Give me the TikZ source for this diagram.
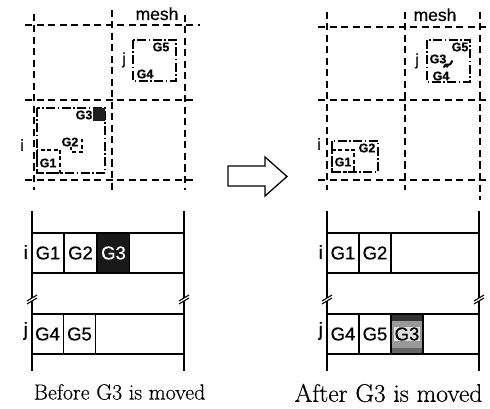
\documentclass[tikz,border=0pt]{standalone}
\usepackage{fontspec}
\newfontfamily\labelsans[FakeBold=0.6]{Liberation Sans}
\newfontfamily\capserif[FakeBold=0.4]{Latin Modern Roman}
\begin{document}
\begin{tikzpicture}[x=1pt,y=-1pt,
  gridline/.style={line width=1.4pt, dash pattern=on 7pt off 4.5pt},
  cluster/.style={line width=1.1pt, dash pattern=on 9pt off 2.5pt on 1.5pt off 2.5pt},
  subbox/.style={line width=1.1pt, dash pattern=on 4pt off 2.5pt},
  tbl/.style={line width=1.3pt},
  small/.style={font=\labelsans\bfseries\fontsize{12.5}{13}\selectfont, inner sep=0.5pt},
  mid/.style={font=\labelsans\fontsize{16}{17}\selectfont, inner sep=0pt},
  rowlab/.style={font=\labelsans\fontsize{19}{20}\selectfont, inner sep=0pt, anchor=east},
  cell/.style={draw, tbl, minimum width=32pt, minimum height=40pt, inner sep=0pt,
    font=\labelsans\fontsize{18.5}{20}\selectfont},
  caption/.style={inner sep=0pt},
  brk/.style={fill=white, draw=none},
]
\useasboundingbox (0,0) rectangle (490,409);

% ---------- mesh before the move ----------
\foreach \x/\a/\b in {34/14/190, 112/10/192, 185/15/190}
  \draw[gridline] (\x,\a) -- (\x,\b);
\foreach \y/\a/\b in {25/25/200, 100/25/197, 180/25/197}
  \draw[gridline] (\a,\y) -- (\b,\y);
\node[mid, font=\labelsans\fontsize{17.5}{18}\selectfont, anchor=base] (mesh-l) at (157,20) {mesh};

% cluster j
\draw[cluster] (133,40) rectangle (176,81);
\node[mid] (lab-j-l) at (124,60) {j};
\node[small] (g5-l) at (161,47) {G5};
\node[small] (g4-l) at (145,74) {G4};

% cluster i
\draw[cluster] (37,108) rectangle (105,173);
\node[mid] (lab-i-l) at (22,145) {i};
\fill[black!88] (93,108) rectangle (105,121);
\node[small] (g3-l) at (84,115) {G3};
\draw[subbox] (71,140) rectangle (82,152);
\node[small, fill=white] (g2-l) at (70,142) {G2};
\draw[subbox] (37,150) rectangle (60,173);
\node[small] (g1-l) at (48,163) {G1};

% ---------- block arrow ----------
\draw[line width=1.3pt, line join=miter]
  (228,166) -- (265,166) -- (265,157) -- (287,176.5) -- (265,196) -- (265,186) -- (228,186) -- cycle;

% ---------- mesh after the move ----------
\foreach \x/\a/\b in {327/12/190, 405/12/190, 480/12/200}
  \draw[gridline] (\x,\a) -- (\x,\b);
\foreach \y in {27,100,180}
  \draw[gridline] (318,\y) -- (490,\y);
\node[mid, font=\labelsans\fontsize{17.5}{18}\selectfont, anchor=base] (mesh-r) at (435,21) {mesh};

% cluster j now holding G3
\draw[cluster] (427,40) rectangle (470,82);
\node[mid] (lab-j-r) at (417,61) {j};
\node[small] (g5-r) at (460,47) {G5};
\node[small] (g3-r) at (438,59) {G3};
\node[small] (g4-r) at (441,76) {G4};
\draw[line width=2pt, line cap=round] (444,67) .. controls (446,61) and (449,69) .. (452,61);
\fill (447,66) circle (1.8pt);

% cluster i after G3 left
\draw[cluster] (332,141) rectangle (378,172);
\node[mid] (lab-i-r) at (319,144) {i};
\draw[subbox] (332,150) rectangle (354,172);
\node[small] (g1-r) at (343,162) {G1};
\node[small, fill=white] (g2-r) at (367,148) {G2};

% ---------- storage before the move ----------
\draw[tbl] (32,211) -- (32,371);
\draw[tbl] (184,211) -- (184,371);
\draw[tbl] (32,233) rectangle (184,273);
\draw[tbl] (32,314) rectangle (184,354);
\node[cell] (tl-g1) at (48,253) {G1};
\node[cell] (tl-g2) at (80.5,253) {G2};
\node[cell, fill=black!90, text=white] (tl-g3) at (113.5,253) {G3};
\node[cell] (tl-g4) at (47.5,334) {G4};
\node[cell] (tl-g5) at (79.5,334) {G5};
\node[rowlab] (tl-i) at (28,252) {i};
\node[rowlab] (tl-j) at (28,331) {j};
\foreach \x in {32,184} {
  \fill[brk] (\x-5,301) -- (\x+5,295) -- (\x+5,298) -- (\x-5,304) -- cycle;
  \draw[line width=1.1pt] (\x-5,301) -- (\x+5,295);
  \draw[line width=1.1pt] (\x-5,304) -- (\x+5,298);
}
\node[caption, font=\capserif\fontsize{21.9}{26}\selectfont] (cap-before) at (119.5,392) {Before G3 is moved};

% ---------- storage after the move ----------
\draw[tbl] (327,211) -- (327,371);
\draw[tbl] (479,211) -- (479,371);
\draw[tbl] (327,233) rectangle (479,273);
\draw[tbl] (327,314) rectangle (479,354);
\node[cell] (tr-g1) at (343,253) {G1};
\node[cell] (tr-g2) at (375,253) {G2};
\node[cell] (tr-g4) at (343,334) {G4};
\node[cell] (tr-g5) at (375,334) {G5};
\node[cell, fill=black!40] (tr-g3) at (407,334) {};
\fill[black!80] (391,314) rectangle (423,321);
\fill[black!60] (391,348) rectangle (423,354);
\draw[tbl] (391,314) rectangle (423,354);
\node[font=\labelsans\fontsize{18.5}{20}\selectfont, fill=black!12, inner sep=0.5pt] (tr-g3-lab) at (tr-g3) {G3};
\node[rowlab] (tr-i) at (323,252) {i};
\node[rowlab] (tr-j) at (323,331) {j};
\foreach \x in {327,479} {
  \fill[brk] (\x-5,301) -- (\x+5,295) -- (\x+5,298) -- (\x-5,304) -- cycle;
  \draw[line width=1.1pt] (\x-5,301) -- (\x+5,295);
  \draw[line width=1.1pt] (\x-5,304) -- (\x+5,298);
}
\node[caption, font=\capserif\fontsize{25.5}{30}\selectfont] (cap-after) at (388.5,393) {After G3 is moved};
\end{tikzpicture}
\end{document}
